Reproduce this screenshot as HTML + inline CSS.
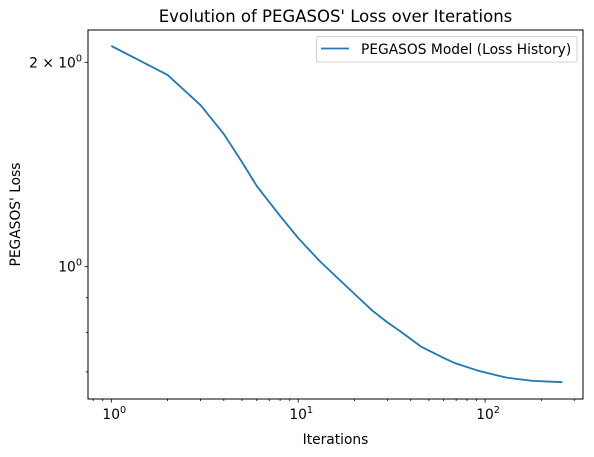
<!DOCTYPE html>
<html><head><meta charset="utf-8"><style>
body{margin:0;background:#fff;}
svg{display:block;font-family:"DejaVu Sans","Liberation Sans",sans-serif;}
</style></head><body>
<svg id="chart" width="594" height="457" xmlns="http://www.w3.org/2000/svg">
<rect width="594" height="457" fill="#fff"/>
<text x="335.5" y="22" font-size="16.5" text-anchor="middle" fill="#000">Evolution of PEGASOS' Loss over Iterations</text>
<g id="ticks"></g>
<path id="series" fill="none" stroke="#1f77b4" stroke-width="1.8" stroke-linejoin="round"/>
<rect x="88" y="30" width="495" height="369" fill="none" stroke="#000" stroke-width="1"/>
<text x="335.5" y="444" font-size="13.8" text-anchor="middle">Iterations</text>
<text transform="translate(20,214.5) rotate(-90)" font-size="13.8" text-anchor="middle">PEGASOS' Loss</text>
<g>
<rect x="316.5" y="36.5" width="260.5" height="25.5" rx="2" fill="#fff" fill-opacity="0.8" stroke="#d0d0d0"/>
<line x1="321" y1="48.5" x2="349" y2="48.5" stroke="#1f77b4" stroke-width="1.8"/>
<text x="361" y="54" font-size="13.8">PEGASOS Model (Loss History)</text>
</g>
</svg>
<script>
const iterations=[1,2,3,4,5,6,7,8,10,13,16,20,25,30,35,45.6,60,69,90,110,132,180,259];
const losses=[2.114,1.916,1.73,1.568,1.426,1.315,1.245,1.188,1.102,1.02,0.966,0.912,0.861,0.828,0.804,0.762,0.734,0.721,0.704,0.694,0.686,0.679,0.676];
const xMajorTicks=[1,10,100];
const xMajorLabels=["0","1","2"];
const yMajorTicks=[2,1];
const yMajorLabels=["2 × 10","10"];
const yMinorTicks=[0.9,0.8,0.7];

const L=88,R=583,T=30,B=399;
const x0=111.3,xDec=186.9;
const y1px=266.7,yDec=679;
function sx(v){return x0+Math.log10(v)*xDec;}
function sy(v){return y1px-Math.log10(v)*yDec;}
const NS="http://www.w3.org/2000/svg";
const g=document.getElementById('ticks');
function ln(x1,y1,x2,y2,name){const e=document.createElementNS(NS,'line');e.setAttribute('x1',x1);e.setAttribute('y1',y1);e.setAttribute('x2',x2);e.setAttribute('y2',y2);e.setAttribute('stroke','#000');e.setAttribute('stroke-width','0.8');


g.appendChild(e);}
function tx(x,y,base,sup,anchor,name){const e=document.createElementNS(NS,'text');e.setAttribute('x',x);e.setAttribute('y',y);e.setAttribute('font-size','13.8');e.setAttribute('text-anchor',anchor);
e.appendChild(document.createTextNode(base));const s=document.createElementNS(NS,'tspan');s.setAttribute('dy','-6');s.setAttribute('font-size','9.7');s.textContent=sup;e.appendChild(s);


g.appendChild(e);}
for(let d=0.1;d<=1000;d*=10){for(let m=1;m<10;m++){const v=d*m;const px=sx(v);if(px<L-0.5||px>R+0.5)continue;
const major=m===1;ln(px,B,px,B+(major?3.5:2),major?'x-major-tick':'x-minor-tick');}}
xMajorTicks.forEach((v,i)=>tx(sx(v)+3,419,"10",xMajorLabels[i],"middle",'x-tick-label'));
yMajorTicks.forEach((v,i)=>{ln(L-3.5,sy(v),L,sy(v),'y-major-tick');tx(L-6,sy(v)+5,yMajorLabels[i],"0","end",'y-tick-label');});
yMinorTicks.forEach(v=>ln(L-2,sy(v),L,sy(v),'y-minor-tick'));
document.getElementById('series').setAttribute('d',iterations.map((v,i)=>(i?'L':'M')+sx(v).toFixed(2)+','+sy(losses[i]).toFixed(2)).join(' '));
</script>
</body></html>
